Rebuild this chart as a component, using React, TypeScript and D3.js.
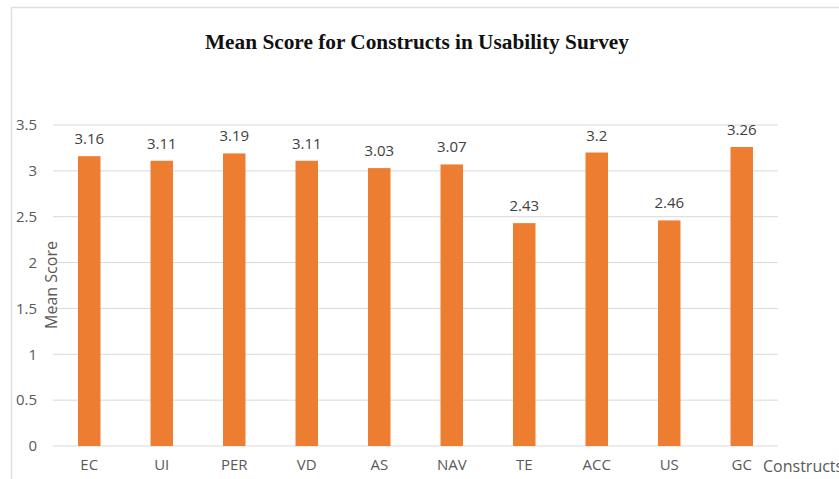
import { useRef, useEffect } from "react";
import * as d3 from "d3";

const categories = ["EC", "UI", "PER", "VD", "AS", "NAV", "TE", "ACC", "US", "GC"];
const scores = [3.16, 3.11, 3.19, 3.11, 3.03, 3.07, 2.43, 3.2, 2.46, 3.26];
const yTicks = [0, 0.5, 1, 1.5, 2, 2.5, 3, 3.5];

const width = 839;
const height = 479;

function App() {
  const ref = useRef<SVGSVGElement | null>(null);

  useEffect(() => {
    if (!ref.current) return;
    const margin = { top: 125, right: 61, bottom: 33, left: 53 };
    const innerWidth = width - margin.left - margin.right;
    const innerHeight = height - margin.top - margin.bottom;
    const font = "'Open Sans', 'Noto Sans', sans-serif";

    const svg = d3.select(ref.current).html("");

    // chart frame
    svg
      .append("rect")
      .attr("x", 11.5)
      .attr("y", 7.5)
      .attr("width", width)
      .attr("height", height)
      .attr("fill", "white")
      .attr("stroke", "#e0e0e0")
      .attr("stroke-width", 1.5);

    svg
      .append("text")
      .attr("x", 417)
      .attr("y", 49)
      .attr("text-anchor", "middle")
      .style("font-family", "'Liberation Serif', 'Times New Roman', serif")
      .style("font-weight", "bold")
      .style("font-size", "21.3px")
      .style("fill", "#111")
      .text("Mean Score for Constructs in Usability Survey");

    const g = svg
      .append("g")
      .attr("transform", `translate(${margin.left},${margin.top})`);

    const x = d3
      .scaleBand()
      .domain(categories)
      .range([0, innerWidth])
      .paddingInner(0.69)
      .paddingOuter(0.345);
    const y = d3.scaleLinear().domain([0, 3.5]).range([innerHeight, 0]);

    // gridlines
    g.append("g")
      .selectAll("line")
      .data(yTicks)
      .enter()
      .append("line")
      .attr("x1", 0)
      .attr("x2", innerWidth)
      .attr("y1", (d) => y(d))
      .attr("y2", (d) => y(d))
      .attr("stroke", "#d9d9d9")
      .attr("stroke-width", 1);

    // y axis labels
    const yAxis = g
      .append("g")
      .call(d3.axisLeft(y).tickValues(yTicks).tickSize(0).tickPadding(16).tickFormat((d: any) => `${d}`));
    yAxis.select(".domain").remove();
    yAxis
      .selectAll("text")
      .style("font-family", font)
      .style("font-size", "15px")
      .style("fill", "#595959");

    // x axis labels
    const xAxis = g
      .append("g")
      .attr("transform", `translate(0,${innerHeight})`)
      .call(d3.axisBottom(x).tickSize(0).tickPadding(13));
    xAxis.select(".domain").remove();
    xAxis
      .selectAll("text")
      .style("font-family", font)
      .style("font-size", "15px")
      .style("fill", "#595959");

    // bars
    g.selectAll(".bar")
      .data(scores)
      .enter()
      .append("rect")
      .attr("class", "bar")
      .attr("x", (d, i) => x(categories[i]) as number)
      .attr("width", x.bandwidth())
      .attr("y", (d) => y(d))
      .attr("height", (d) => innerHeight - y(d))
      .attr("fill", "#ED7D31");

    // value labels
    g.selectAll(".val")
      .data(scores)
      .enter()
      .append("text")
      .attr("class", "val")
      .attr("x", (d, i) => (x(categories[i]) as number) + x.bandwidth() / 2)
      .attr("y", (d) => y(d) - 12)
      .attr("text-anchor", "middle")
      .style("font-family", font)
      .style("font-size", "15px")
      .style("fill", "#404040")
      .text((d) => `${d}`);

    // axis titles
    svg
      .append("text")
      .attr("transform", `translate(57,285) rotate(-90)`)
      .attr("text-anchor", "middle")
      .style("font-family", font)
      .style("font-size", "16px")
      .style("fill", "#595959")
      .text("Mean Score");

    svg
      .append("text")
      .attr("x", 763)
      .attr("y", 472)
      .style("font-family", font)
      .style("font-size", "16px")
      .style("fill", "#595959")
      .text("Constructs");
  }, []);

  return (
    <svg
      ref={ref}
      width={width}
      height={height}
      style={{ position: "absolute", left: 0, top: 0 }}
    ></svg>
  );
}

export default App;
